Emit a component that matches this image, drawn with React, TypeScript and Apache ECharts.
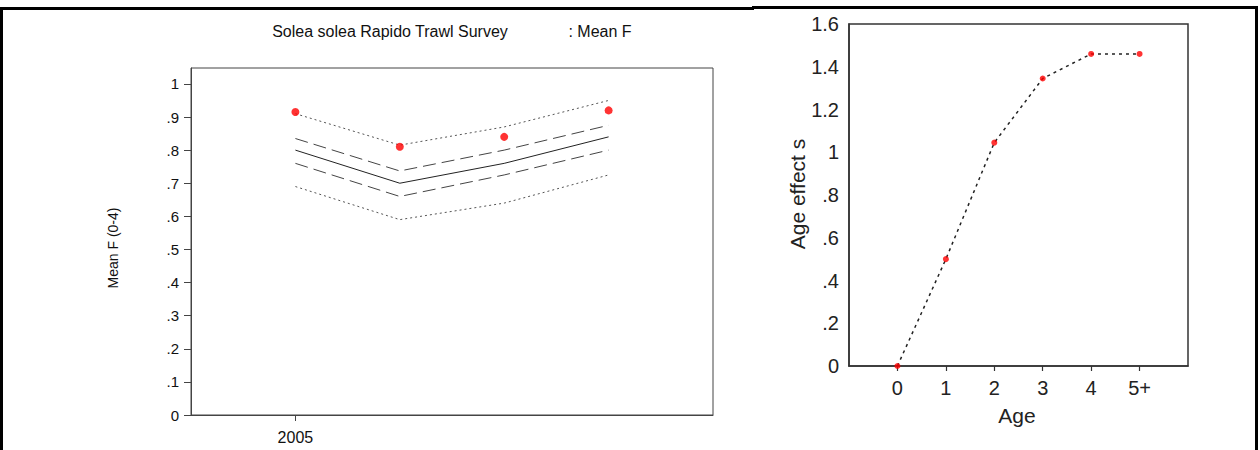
import React, { useEffect, useRef } from "react";
import * as echarts from "echarts";

// ---- Left panel data: Solea solea Rapido Trawl Survey, Mean F ----
const years = [2005, 2006, 2007, 2008];
const meanF = [0.8, 0.7, 0.76, 0.84];
const upperDashed = [0.835, 0.737, 0.8, 0.875];
const lowerDashed = [0.76, 0.66, 0.725, 0.8];
const upperDotted = [0.91, 0.815, 0.87, 0.95];
const lowerDotted = [0.69, 0.59, 0.64, 0.725];
const observedF = [0.915, 0.81, 0.84, 0.92];
const leftYTicks = [0, 0.1, 0.2, 0.3, 0.4, 0.5, 0.6, 0.7, 0.8, 0.9, 1];
const leftXTicks = [2005];

// ---- Right panel data: Age effect ----
const ageLabels = ["0", "1", "2", "3", "4", "5+"];
const ageEffect = [0, 0.5, 1.045, 1.345, 1.46, 1.46];
const rightYTicks = [0, 0.2, 0.4, 0.6, 0.8, 1, 1.2, 1.4, 1.6];

const FONT = "Liberation Sans, Arial, sans-serif";

function pairs(xs: number[], ys: number[]) {
  return xs.map((x, i) => [x, ys[i]]);
}

function leftLabel(v: number) {
  if (Math.abs(v) < 1e-9) return "0";
  if (Math.abs(v - 1) < 1e-9) return "1";
  return "." + Math.round(v * 10);
}

function rightLabel(v: number) {
  if (Math.abs(v) < 1e-9) return "0";
  const s = Number(v.toFixed(1)).toString();
  return s.startsWith("0") ? s.slice(1) : s;
}

export default function App() {
  const ref = useRef<HTMLDivElement>(null);

  useEffect(() => {
    if (!ref.current) return;
    const chart = echarts.init(ref.current, undefined, { renderer: "svg" });
    const ages = ageLabels.map((_, i) => i);

    const lineSeries = (data: number[], type: any, color: string, width = 1) => ({
      type: "line",
      xAxisIndex: 0,
      yAxisIndex: 0,
      data: pairs(years, data),
      symbol: "none",
      lineStyle: { color, width, type },
      z: 2,
    });

    chart.setOption({
      animation: false,
      backgroundColor: "#ffffff",
      grid: [
        {
          left: 191,
          top: 68,
          width: 522,
          height: 347,
          show: true,
          borderColor: "#444",
          borderWidth: 1,
          backgroundColor: "transparent",
        },
        {
          left: 849,
          top: 24,
          width: 339,
          height: 342,
          show: true,
          borderColor: "#333",
          borderWidth: 1.5,
          backgroundColor: "transparent",
        },
      ],
      xAxis: [
        {
          gridIndex: 0,
          type: "value",
          min: 2004,
          max: 2009,
          splitLine: { show: false },
          axisLine: { show: true, onZero: false, lineStyle: { color: "#444", width: 1 } },
          axisTick: {
            show: true,
            length: 6,
            customValues: leftXTicks,
            lineStyle: { color: "#444" },
          },
          axisLabel: {
            customValues: leftXTicks,
            formatter: (v: number) => String(v),
            fontFamily: FONT,
            fontSize: 16,
            color: "#111",
            margin: 14,
          },
        },
        {
          gridIndex: 1,
          type: "value",
          min: -1,
          max: 6,
          splitLine: { show: false },
          axisLine: { show: true, onZero: false, lineStyle: { color: "#333", width: 1.5 } },
          axisTick: {
            show: true,
            length: 5,
            customValues: ages,
            lineStyle: { color: "#333", width: 1.2 },
          },
          axisLabel: {
            customValues: ages,
            formatter: (v: number) => ageLabels[Math.round(v)] ?? "",
            fontFamily: FONT,
            fontSize: 20,
            color: "#222",
            margin: 12,
          },
        },
      ],
      yAxis: [
        {
          gridIndex: 0,
          type: "value",
          min: 0,
          max: 1.048,
          splitLine: { show: false },
          axisLine: { show: true, onZero: false, lineStyle: { color: "#444", width: 1 } },
          axisTick: {
            show: true,
            length: 7,
            customValues: leftYTicks,
            lineStyle: { color: "#444" },
          },
          axisLabel: {
            customValues: leftYTicks,
            formatter: leftLabel,
            fontFamily: FONT,
            fontSize: 15,
            color: "#111",
            margin: 12,
          },
        },
        {
          gridIndex: 1,
          type: "value",
          min: 0,
          max: 1.6,
          interval: 0.2,
          splitLine: { show: false },
          axisLine: { show: true, onZero: false, lineStyle: { color: "#333", width: 1.5 } },
          axisTick: { show: false },
          axisLabel: {
            customValues: rightYTicks,
            formatter: rightLabel,
            fontFamily: FONT,
            fontSize: 20,
            color: "#222",
            margin: 10,
          },
        },
      ],
      series: [
        lineSeries(upperDotted, [2, 3], "#555"),
        lineSeries(upperDashed, [13, 6], "#444"),
        lineSeries(meanF, "solid", "#222"),
        lineSeries(lowerDashed, [13, 6], "#444"),
        lineSeries(lowerDotted, [2, 3], "#555"),
        {
          type: "scatter",
          xAxisIndex: 0,
          yAxisIndex: 0,
          data: pairs(years, observedF),
          symbol: "circle",
          symbolSize: 8,
          itemStyle: { color: "#ff0000" },
          z: 5,
        },
        {
          type: "line",
          xAxisIndex: 1,
          yAxisIndex: 1,
          data: pairs(ages, ageEffect),
          symbol: "none",
          lineStyle: { color: "#222", width: 1.5, type: [3, 4] },
          z: 2,
        },
        {
          type: "scatter",
          xAxisIndex: 1,
          yAxisIndex: 1,
          data: pairs(ages, ageEffect),
          symbol: "circle",
          symbolSize: 6,
          itemStyle: { color: "#ff0000" },
          z: 5,
        },
      ],
      graphic: [
        // frame lines
        { type: "rect", shape: { x: 0, y: 7, width: 3, height: 443 }, style: { fill: "#000" }, z: 10 },
        { type: "rect", shape: { x: 0, y: 7, width: 754, height: 3 }, style: { fill: "#000" }, z: 10 },
        { type: "rect", shape: { x: 752, y: 6, width: 506, height: 3 }, style: { fill: "#000" }, z: 10 },
        { type: "rect", shape: { x: 1255, y: 6, width: 3, height: 444 }, style: { fill: "#000" }, z: 10 },
        // left titles
        {
          type: "text",
          x: 390,
          y: 31,
          style: {
            text: "Solea solea Rapido Trawl Survey",
            fontFamily: FONT,
            fontSize: 16,
            fill: "#111",
            align: "center",
            verticalAlign: "middle",
          },
        },
        {
          type: "text",
          x: 600,
          y: 31,
          style: {
            text: ": Mean F",
            fontFamily: FONT,
            fontSize: 16,
            fill: "#111",
            align: "center",
            verticalAlign: "middle",
          },
        },
        {
          type: "text",
          x: 113,
          y: 248,
          rotation: Math.PI / 2,
          style: {
            text: "Mean F (0-4)",
            fontFamily: FONT,
            fontSize: 14,
            fill: "#111",
            align: "center",
            verticalAlign: "middle",
          },
        },
        // right titles
        {
          type: "text",
          x: 797,
          y: 194,
          rotation: Math.PI / 2,
          style: {
            text: "Age effect s",
            fontFamily: FONT,
            fontSize: 21,
            fill: "#222",
            align: "center",
            verticalAlign: "middle",
          },
        },
        {
          type: "text",
          x: 1017,
          y: 415,
          style: {
            text: "Age",
            fontFamily: FONT,
            fontSize: 21,
            fill: "#222",
            align: "center",
            verticalAlign: "middle",
          },
        },
      ],
    });

    return () => chart.dispose();
  }, []);

  return (
    <div
      ref={ref}
      style={{ position: "fixed", left: 0, top: 0, width: 1260, height: 450 }}
    />
  );
}
